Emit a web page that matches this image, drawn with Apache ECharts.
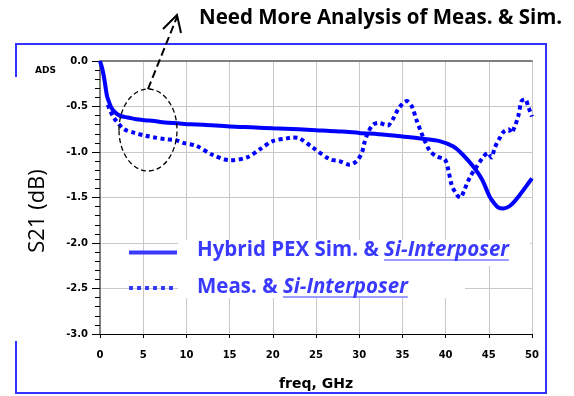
<!DOCTYPE html>
<html>
<head>
<meta charset="utf-8">
<script src="https://cdn.jsdelivr.net/npm/echarts@6/dist/echarts.min.js"></script>
<style>
  html, body { margin: 0; padding: 0; background: #fff; }
  #chart { width: 574px; height: 396px; }
</style>
</head>
<body>
<div id="chart"></div>
<script>
// Frequency axis (GHz) and S21 axis (dB) ticks
const freqTicks = [0, 5, 10, 15, 20, 25, 30, 35, 40, 45, 50];
const s21Ticks = [0.0, -0.5, -1.0, -1.5, -2.0, -2.5, -3.0];

// Hybrid PEX simulation: [freq GHz, S21 dB]
const simFreq = [0, 0.25, 0.5, 0.8, 1.0, 1.3, 1.7, 2.1, 2.6, 3.2, 4.2, 5.2, 6.3, 7.5, 9, 10.5, 12, 15, 18, 20, 23, 25, 26.6, 28, 30, 33, 35, 37.4, 39.3, 40.9, 42.0, 43.2, 44.2, 45.1, 45.6, 46.1, 46.7, 47.6, 48.6, 49.3, 50];
const simS21 = [0, -0.08, -0.20, -0.38, -0.44, -0.51, -0.56, -0.59, -0.61, -0.62, -0.64, -0.65, -0.66, -0.675, -0.685, -0.695, -0.70, -0.72, -0.73, -0.74, -0.75, -0.76, -0.77, -0.775, -0.79, -0.81, -0.83, -0.855, -0.88, -0.94, -1.03, -1.16, -1.30, -1.49, -1.56, -1.61, -1.62, -1.58, -1.47, -1.38, -1.29];

// Measurement: [freq GHz, S21 dB]
const measFreq = [0.9, 1.2, 1.5, 1.9, 2.8, 4.0, 5.2, 6.3, 7.6, 8.8, 9.6, 11.1, 13, 15, 17, 18.5, 20, 21.6, 22.3, 23.1, 24.6, 26.6, 27.7, 28.9, 29.7, 30.3, 30.6, 31.0, 31.6, 32.2, 33.0, 33.3, 33.9, 34.5, 35.1, 35.5, 36.1, 36.6, 37.2, 37.6, 38.2, 39.0, 39.9, 40.3, 40.7, 41.3, 41.7, 42.2, 42.8, 43.6, 44.4, 44.9, 45.3, 45.7, 46.3, 46.7, 47.3, 47.6, 48.0, 48.4, 48.8, 49.2, 49.6, 50];
const measS21 = [-0.48, -0.55, -0.61, -0.66, -0.75, -0.79, -0.82, -0.84, -0.86, -0.87, -0.9, -0.93, -1.03, -1.09, -1.06, -0.97, -0.88, -0.85, -0.84, -0.85, -0.95, -1.08, -1.10, -1.14, -1.10, -1.01, -0.90, -0.79, -0.70, -0.68, -0.70, -0.71, -0.64, -0.53, -0.46, -0.44, -0.50, -0.64, -0.79, -0.88, -0.99, -1.05, -1.08, -1.19, -1.36, -1.47, -1.50, -1.41, -1.28, -1.16, -1.05, -1.01, -1.06, -0.95, -0.84, -0.78, -0.75, -0.79, -0.72, -0.61, -0.44, -0.42, -0.51, -0.61];

const legendLabels = ['Hybrid PEX Sim. & ', 'Meas. & '];
const legendItalic = 'Si-Interposer';
const titleText = 'Need More Analysis of Meas. & Sim.';

const pair = (xs, ys) => xs.map((x, i) => [x, ys[i]]);

const chart = echarts.init(document.getElementById('chart'), null, { renderer: 'canvas' });

const tickFont = { fontFamily: 'DejaVu Sans', fontWeight: 'bold', fontSize: 10, color: '#000' };
const legendColor = '#3a3aff';
const legendFont = '"Open Sans", sans-serif';
const legendSize = 20.5;

// measure text widths for underline placement
const mctx = document.createElement('canvas').getContext('2d');
function textW(txt, style) {
  mctx.font = style + ' ' + legendSize + 'px ' + legendFont;
  return mctx.measureText(txt).width;
}

const legX = 197;
const rowY = [250, 287];
const graphics = [];

// outer frame (left side interrupted by the axis-name area)
graphics.push({
  type: 'polyline', z: 100,
  shape: { points: [[16, 77], [16, 44], [546, 44], [546, 393], [16, 393], [16, 341]] },
  style: { stroke: '#3333ff', lineWidth: 2, fill: 'none' }
});

// legend panels hide the grid behind the text
graphics.push({ type: 'rect', z: 90, shape: { x: 178, y: 240, width: 352, height: 26 }, style: { fill: '#fff' } });
graphics.push({ type: 'rect', z: 90, shape: { x: 178, y: 266, width: 287, height: 32 }, style: { fill: '#fff' } });

// legend samples
graphics.push({ type: 'line', z: 100, shape: { x1: 129, y1: 252.5, x2: 177, y2: 252.5 }, style: { stroke: legendColor, lineWidth: 4 } });
graphics.push({ type: 'line', z: 100, shape: { x1: 129, y1: 288, x2: 177, y2: 288 }, style: { stroke: legendColor, lineWidth: 4, lineDash: [4, 4] } });

legendLabels.forEach((lab, i) => {
  graphics.push({
    type: 'text', z: 100, x: legX, y: rowY[i],
    style: {
      text: '{a|' + lab + '}{b|' + legendItalic + '}',
      verticalAlign: 'middle',
      rich: {
        a: { fontFamily: legendFont, fontWeight: 'bold', fontSize: legendSize, fill: legendColor },
        b: { fontFamily: legendFont, fontWeight: 'bold', fontStyle: 'italic', fontSize: legendSize, fill: legendColor }
      }
    }
  });
  const w1 = textW(lab, 'bold');
  const w2 = textW(legendItalic, 'italic bold');
  graphics.push({
    type: 'line', z: 100,
    shape: { x1: legX + w1, y1: rowY[i] + 10, x2: legX + w1 + w2, y2: rowY[i] + 10 },
    style: { stroke: legendColor, lineWidth: 1.2 }
  });
});

// axis name, corner tag, title
graphics.push({
  type: 'text', z: 100, x: 38, y: 211, rotation: Math.PI / 2,
  style: { text: 'S21 (dB)', fontFamily: '"Open Sans", sans-serif', fontSize: 22, fill: '#000', align: 'center', verticalAlign: 'middle' }
});
graphics.push({
  type: 'text', z: 100, x: 35, y: 71,
  style: { text: 'ADS', fontFamily: 'DejaVu Sans', fontWeight: 'bold', fontSize: 9, fill: '#000', verticalAlign: 'middle' }
});
graphics.push({
  type: 'text', z: 100, x: 199, y: 18,
  style: { text: titleText, fontFamily: '"Open Sans", sans-serif', fontWeight: 'bold', fontSize: 20.5, fill: '#000', verticalAlign: 'middle' }
});

// annotation: dashed ellipse and arrow
graphics.push({
  type: 'ellipse', z: 100, shape: { cx: 148, cy: 130, rx: 29, ry: 41 },
  style: { fill: 'none', stroke: '#000', lineWidth: 1.3, lineDash: [5, 3] }
});
graphics.push({
  type: 'line', z: 100, shape: { x1: 148, y1: 89, x2: 177, y2: 17 },
  style: { stroke: '#000', lineWidth: 2, lineDash: [8, 4] }
});
graphics.push({
  type: 'polyline', z: 100, shape: { points: [[163, 29], [177, 15], [181, 33]] },
  style: { stroke: '#000', lineWidth: 2, fill: 'none' }
});

const option = {
  animation: false,
  backgroundColor: '#fff',
  grid: { left: 100, top: 61, width: 432, height: 273, show: false, containLabel: false, outerBoundsMode: 'none' },
  xAxis: [{
    type: 'value', min: 0, max: 50, interval: 5,
    name: 'freq, GHz', nameLocation: 'middle', nameGap: 43,
    nameTextStyle: { fontFamily: 'DejaVu Sans', fontWeight: 'bold', fontSize: 14, color: '#000' },
    axisLine: { onZero: false, lineStyle: { color: '#000', width: 1 } },
    axisTick: { show: true, length: 4, lineStyle: { color: '#000' } },
    axisLabel: Object.assign({ margin: 16 }, tickFont),
    splitLine: { show: true, lineStyle: { color: '#c8c8c8', width: 1 } }
  }, {
    type: 'value', min: 0, max: 50, position: 'top',
    axisLine: { lineStyle: { color: '#808080', width: 2 } },
    axisTick: { show: false }, axisLabel: { show: false }, splitLine: { show: false }
  }],
  yAxis: [{
    type: 'value', min: -3, max: 0, interval: 0.5,
    axisLine: { show: true, onZero: false, lineStyle: { color: '#000', width: 1 } },
    axisTick: { show: true, length: 8, lineStyle: { color: '#000' } },
    minorTick: { show: true, splitNumber: 5, length: 5, lineStyle: { color: '#000' } },
    axisLabel: Object.assign({ margin: 12, formatter: v => v.toFixed(1) }, tickFont),
    splitLine: { show: true, lineStyle: { color: '#c8c8c8', width: 1 } }
  }, {
    type: 'value', min: -3, max: 0, position: 'right',
    axisLine: { show: true, lineStyle: { color: '#808080', width: 2 } },
    axisTick: { show: false }, axisLabel: { show: false }, splitLine: { show: false }
  }],
  series: [{
    name: 'Hybrid PEX Sim. & Si-Interposer',
    type: 'line', smooth: 0.3, showSymbol: false, symbol: 'none',
    data: pair(simFreq, simS21),
    lineStyle: { color: '#0000ff', width: 4 }, z: 3
  }, {
    name: 'Meas. & Si-Interposer',
    type: 'line', smooth: 0.3, showSymbol: false, symbol: 'none',
    data: pair(measFreq, measS21),
    lineStyle: { color: '#0000ff', width: 4, type: [4, 3.5] }, z: 3
  }],
  graphic: graphics
};

chart.setOption(option);
</script>
</body>
</html>
